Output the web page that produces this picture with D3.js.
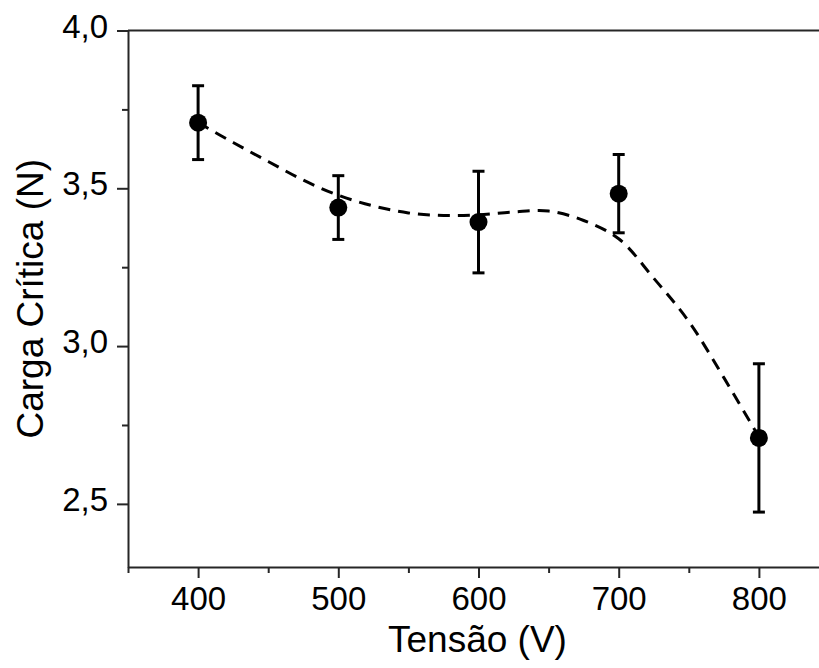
<!DOCTYPE html>
<html>
<head>
<meta charset="utf-8">
<script src="https://cdn.jsdelivr.net/npm/d3@7"></script>
<style>
  body { margin: 0; background: #fff; }
  svg { display: block; font-family: "Liberation Sans", Arial, sans-serif; }
  .tick text { font-size: 33px; font-family: "Liberation Sans", Arial, sans-serif; }
</style>
</head>
<body>
<div id="chart"></div>
<script>
// measured points
var tensao = [400, 500, 600, 700, 800];
var carga = [3.708, 3.439, 3.393, 3.483, 2.709];
var erro = [0.117, 0.101, 0.161, 0.124, 0.235];

// dashed guide curve
var fitX = [400, 425, 450, 475, 500, 525, 550, 575, 600, 625, 650, 675, 700, 725, 750, 775, 800];
var fitY = [3.708, 3.645, 3.585, 3.526, 3.478, 3.444, 3.422, 3.414, 3.416, 3.425, 3.428, 3.398, 3.340, 3.215, 3.078, 2.900, 2.712];

var xMajor = [400, 500, 600, 700, 800];
var xMinor = [350, 450, 550, 650, 750];
var yMajor = [2.5, 3.0, 3.5, 4.0];
var yMinor = [2.75, 3.25, 3.75];

var width = 819, height = 668;
var plotLeft = 128, plotTop = 30.5, plotRight = 829, plotBottom = 567;

var svg = d3.select('#chart').append('svg')
    .attr('width', width)
    .attr('height', height);

var x = d3.scaleLinear().domain([350, 850]).range([plotLeft, plotRight]);
var y = d3.scaleLinear().domain([2.3, 4.0]).range([plotBottom, plotTop]);

var pt = d3.formatLocale({decimal: ',', thousands: '.', grouping: [3], currency: ['', '']});
var fmt = pt.format('.1f');

var axisColor = '#262626';

// frame top line
svg.append('line')
    .attr('x1', plotLeft).attr('x2', plotRight)
    .attr('y1', plotTop).attr('y2', plotTop)
    .attr('stroke', axisColor).attr('stroke-width', 2);

// x axis
var gx = svg.append('g').attr('transform', 'translate(0,' + plotBottom + ')');
gx.call(d3.axisBottom(x).tickValues(xMajor).tickSize(11).tickPadding(9).tickSizeOuter(0));
svg.append('g').attr('transform', 'translate(0,' + plotBottom + ')')
    .call(d3.axisBottom(x).tickValues(xMinor).tickSize(6).tickFormat('').tickSizeOuter(0))
    .select('.domain').remove();

// y axis
var gy = svg.append('g').attr('transform', 'translate(' + plotLeft + ',0)');
gy.call(d3.axisLeft(y).tickValues(yMajor).tickSize(11).tickPadding(9).tickSizeOuter(0).tickFormat(fmt));
svg.append('g').attr('transform', 'translate(' + plotLeft + ',0)')
    .call(d3.axisLeft(y).tickValues(yMinor).tickSize(6).tickFormat('').tickSizeOuter(0))
    .select('.domain').remove();

svg.selectAll('g').attr('font-size', 33).attr('font-family', null);
svg.selectAll('.domain').attr('stroke', axisColor).attr('stroke-width', 2);
svg.selectAll('.tick line').attr('stroke', axisColor).attr('stroke-width', 2);
svg.selectAll('.tick text').attr('fill', '#000');
gy.selectAll('.tick text').attr('y', -4);

// axis titles
svg.append('text')
    .attr('x', (plotLeft + plotRight) / 2 - 1)
    .attr('y', 652)
    .attr('text-anchor', 'middle')
    .style('font-size', '37px')
    .text('Tensão (V)');

svg.append('text')
    .attr('transform', 'translate(43,' + ((plotTop + plotBottom) / 2) + ') rotate(-90)')
    .attr('text-anchor', 'middle')
    .style('font-size', '37px')
    .text('Carga Crítica (N)');

// dashed curve
var fit = fitX.map(function (d, i) { return [d, fitY[i]]; });
var line = d3.line()
    .x(function (d) { return x(d[0]); })
    .y(function (d) { return y(d[1]); })
    .curve(d3.curveCatmullRom);

svg.append('path')
    .datum(fit)
    .attr('d', line)
    .attr('fill', 'none')
    .attr('stroke', '#000')
    .attr('stroke-width', 3)
    .attr('stroke-dasharray', '12,8');

// error bars + points
var pts = tensao.map(function (d, i) { return {x: d, y: carga[i], e: erro[i]}; });
var cap = 6;
var eb = svg.append('g').attr('stroke', '#000').attr('stroke-width', 3);
pts.forEach(function (d) {
    eb.append('line')
        .attr('x1', x(d.x)).attr('x2', x(d.x))
        .attr('y1', y(d.y + d.e)).attr('y2', y(d.y - d.e));
    eb.append('line')
        .attr('x1', x(d.x) - cap).attr('x2', x(d.x) + cap)
        .attr('y1', y(d.y + d.e)).attr('y2', y(d.y + d.e));
    eb.append('line')
        .attr('x1', x(d.x) - cap).attr('x2', x(d.x) + cap)
        .attr('y1', y(d.y - d.e)).attr('y2', y(d.y - d.e));
});

svg.append('g').selectAll('circle')
    .data(pts)
    .enter().append('circle')
    .attr('cx', function (d) { return x(d.x); })
    .attr('cy', function (d) { return y(d.y); })
    .attr('r', 9)
    .attr('fill', '#000');
</script>
</body>
</html>
